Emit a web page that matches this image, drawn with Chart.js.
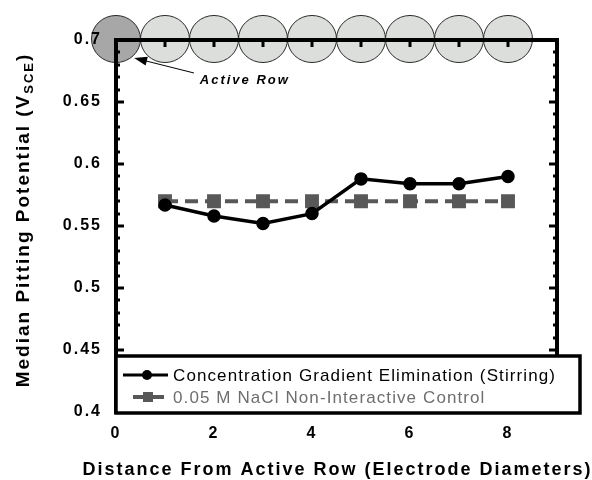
<!DOCTYPE html>
<html><head><meta charset="utf-8">
<script src="https://cdn.jsdelivr.net/npm/chart.js@4/dist/chart.umd.min.js"></script>
<style>html,body{margin:0;padding:0;background:#fff}#wrap{width:592px;height:480px}</style>
</head><body><div id="wrap"><canvas id="c" width="592" height="480"></canvas></div>
<script>
const distances = [1, 2, 3, 4, 5, 6, 7, 8];
const stirring = [0.567, 0.558, 0.552, 0.560, 0.588, 0.584, 0.584, 0.590];
const control = [0.57, 0.57, 0.57, 0.57, 0.57, 0.57, 0.57, 0.57];
const seriesNames = ['Concentration Gradient Elimination (Stirring)', '0.05 M NaCl Non-Interactive Control'];
const xTicks = [0, 2, 4, 6, 8];
const yTicks = [0.4, 0.45, 0.5, 0.55, 0.6, 0.65, 0.7];
const yTickLabels = ['0.4', '0.45', '0.5', '0.55', '0.6', '0.65', '0.7'];
const electrodeRow = [0, 1, 2, 3, 4, 5, 6, 7, 8];
const activeRow = 0;
const xTitle = 'Distance From Active Row (Electrode Diameters)';
const yTitleMain = 'Median Pitting Potential (V';
const yTitleSub = 'SCE';
const yTitleEnd = ')';
const annotationText = 'Active Row';

const FONT = '"Liberation Sans", Arial, Helvetica, sans-serif';

const decor = {
  id: 'decor',
  beforeDraw(chart) {
    const { ctx, scales: { x, y } } = chart;
    ctx.save();
    const yTop = y.getPixelForValue(y.max);
    const rx = (x.getPixelForValue(1) - x.getPixelForValue(0)) / 2;
    electrodeRow.forEach(v => {
      const cx = x.getPixelForValue(v);
      ctx.beginPath();
      ctx.ellipse(cx, yTop - 1, rx, rx * 0.96, 0, 0, Math.PI * 2);
      ctx.fillStyle = v === activeRow ? '#a7a7a7' : '#dcdedc';
      ctx.fill();
      ctx.lineWidth = 1;
      ctx.strokeStyle = '#2a2a2a';
      ctx.stroke();
    });
    ctx.restore();
    ctx.letterSpacing = '2px';
  },
  afterDatasetsDraw(chart) {
    const { ctx, chartArea: ca, scales: { x, y } } = chart;
    ctx.save();
    ctx.letterSpacing = '0px';
    // frame
    ctx.strokeStyle = '#000';
    ctx.lineWidth = 4;
    ctx.strokeRect(ca.left, ca.top, ca.right - ca.left, ca.bottom - ca.top);
    // y ticks (left and right, inward)
    ctx.lineWidth = 3;
    ctx.beginPath();
    for (let k = 0; k <= 30; k++) {
      const v = y.min + k * 0.01;
      const py = Math.round(y.getPixelForValue(v));
      const major = k % 5 === 0;
      const len = major ? 8 : 4;
      ctx.moveTo(ca.left, py); ctx.lineTo(ca.left + len, py);
      ctx.moveTo(ca.right, py); ctx.lineTo(ca.right - len, py);
    }
    // top ticks (inward)
    for (let v = 1; v <= 8; v++) {
      const px = Math.round(x.getPixelForValue(v));
      ctx.moveTo(px, ca.top); ctx.lineTo(px, ca.top + 7);
    }
    ctx.stroke();

    // legend box
    const lx = ca.left, ly = y.getPixelForValue(y.min) - 56;
    const lw = ca.right + 23 - ca.left, lh = y.getPixelForValue(y.min) + 1 - ly;
    ctx.fillStyle = '#fff';
    ctx.fillRect(lx, ly, lw, lh);
    ctx.lineWidth = 3.5;
    ctx.strokeStyle = '#000';
    ctx.strokeRect(lx, ly, lw, lh);
    const ds = chart.data.datasets;
    const rows = [ly + 19, ly + 41];
    // row 1 sample
    ctx.strokeStyle = ds[0].borderColor; ctx.lineWidth = 3;
    ctx.beginPath(); ctx.moveTo(lx + 7, rows[0]); ctx.lineTo(lx + 52, rows[0]); ctx.stroke();
    ctx.fillStyle = ds[0].pointBackgroundColor;
    ctx.beginPath(); ctx.arc(lx + 31, rows[0], 5, 0, Math.PI * 2); ctx.fill();
    // row 2 sample
    ctx.strokeStyle = ds[1].borderColor; ctx.lineWidth = 4;
    ctx.beginPath(); ctx.moveTo(lx + 17, rows[1]); ctx.lineTo(lx + 48, rows[1]); ctx.stroke();
    ctx.fillStyle = ds[1].pointBackgroundColor;
    ctx.fillRect(lx + 27, rows[1] - 5, 10, 10);
    ctx.font = '17px ' + FONT;
    ctx.letterSpacing = '1.1px';
    ctx.textBaseline = 'middle';
    ctx.textAlign = 'left';
    ctx.fillStyle = '#000';
    ctx.fillText(seriesNames[0], lx + 57, rows[0] + 1);
    ctx.fillStyle = '#6e6e6e';
    ctx.fillText(seriesNames[1], lx + 57, rows[1] + 1);

    // annotation arrow
    const tipX = x.getPixelForValue(0.37), tipY = y.getPixelForValue(0.6855);
    const tailX = x.getPixelForValue(1.59), tailY = y.getPixelForValue(0.6734);
    const ang = Math.atan2(tipY - tailY, tipX - tailX);
    ctx.strokeStyle = '#000'; ctx.lineWidth = 1;
    ctx.beginPath();
    ctx.moveTo(tailX, tailY);
    ctx.lineTo(tipX + Math.cos(ang + Math.PI) * 10, tipY + Math.sin(ang + Math.PI) * 10);
    ctx.stroke();
    ctx.fillStyle = '#000';
    ctx.beginPath();
    ctx.moveTo(tipX, tipY);
    ctx.lineTo(tipX - Math.cos(ang) * 13 + Math.sin(ang) * 4.5, tipY - Math.sin(ang) * 13 - Math.cos(ang) * 4.5);
    ctx.lineTo(tipX - Math.cos(ang) * 13 - Math.sin(ang) * 4.5, tipY - Math.sin(ang) * 13 + Math.cos(ang) * 4.5);
    ctx.closePath(); ctx.fill();
    ctx.font = 'italic bold 13px ' + FONT;
    ctx.letterSpacing = '2px';
    ctx.textBaseline = 'middle';
    ctx.fillText(annotationText, x.getPixelForValue(1.71), y.getPixelForValue(0.6677));
    ctx.restore();
  },
  afterDraw(chart) {
    const { ctx, chartArea: ca } = chart;
    ctx.save();
    ctx.fillStyle = '#000';
    ctx.letterSpacing = '2px';
    // x title
    ctx.font = 'bold 18px ' + FONT;
    ctx.textAlign = 'center';
    ctx.textBaseline = 'alphabetic';
    ctx.fillText(xTitle, (ca.left + ca.right) / 2 + 1, 475);
    // y title with subscript
    ctx.translate(29, 220);
    ctx.rotate(-Math.PI / 2);
    ctx.textAlign = 'left';
    const mainFont = 'bold 19px ' + FONT, subFont = 'bold 13px ' + FONT;
    ctx.font = mainFont; const w1 = ctx.measureText(yTitleMain).width;
    ctx.font = subFont; const w2 = ctx.measureText(yTitleSub).width;
    ctx.font = mainFont; const w3 = ctx.measureText(yTitleEnd).width;
    let sx = -(w1 + w2 + w3) / 2;
    ctx.font = mainFont; ctx.fillText(yTitleMain, sx, 0); sx += w1;
    ctx.font = subFont; ctx.fillText(yTitleSub, sx, 4); sx += w2;
    ctx.font = mainFont; ctx.fillText(yTitleEnd, sx, 0);
    ctx.restore();
  }
};

new Chart(document.getElementById('c'), {
  type: 'line',
  data: {
    datasets: [
      {
        label: seriesNames[0],
        data: distances.map((d, i) => ({ x: d, y: stirring[i] })),
        borderColor: '#000', backgroundColor: '#000',
        pointBackgroundColor: '#000', pointBorderColor: '#000',
        borderWidth: 3.5, pointRadius: 5, pointStyle: 'circle', tension: 0
      },
      {
        label: seriesNames[1],
        data: distances.map((d, i) => ({ x: d, y: control[i] })),
        borderColor: '#585858', backgroundColor: '#585858',
        pointBackgroundColor: '#585858', pointBorderColor: '#585858',
        borderWidth: 4, borderDash: [13, 7], pointRadius: 7, pointStyle: 'rect', tension: 0
      }
    ]
  },
  options: {
    responsive: false, animation: false, devicePixelRatio: 1,
    layout: { padding: { top: 40, right: 35, left: 0, bottom: 0 } },
    plugins: { legend: { display: false }, tooltip: { enabled: false } },
    scales: {
      x: {
        type: 'linear', min: 0, max: 9,
        afterBuildTicks: s => { s.ticks = xTicks.map(v => ({ value: v })); },
        afterFit: s => { s.height = 68; },
        grid: { display: false, drawTicks: false }, border: { display: false },
        ticks: { autoSkip: false, maxRotation: 0, padding: 12, color: '#000', font: { family: FONT, size: 16, weight: 'bold' } }
      },
      y: {
        type: 'linear', min: 0.4, max: 0.7,
        afterBuildTicks: s => { s.ticks = yTicks.map(v => ({ value: v })); },
        afterFit: s => { s.width = 116; },
        grid: { display: false, drawTicks: false }, border: { display: false },
        ticks: { autoSkip: false, padding: 14, color: '#000', font: { family: FONT, size: 16, weight: 'bold' },
          callback: (v, i) => yTickLabels[i] }
      }
    }
  },
  plugins: [decor]
});
</script>
</body></html>
